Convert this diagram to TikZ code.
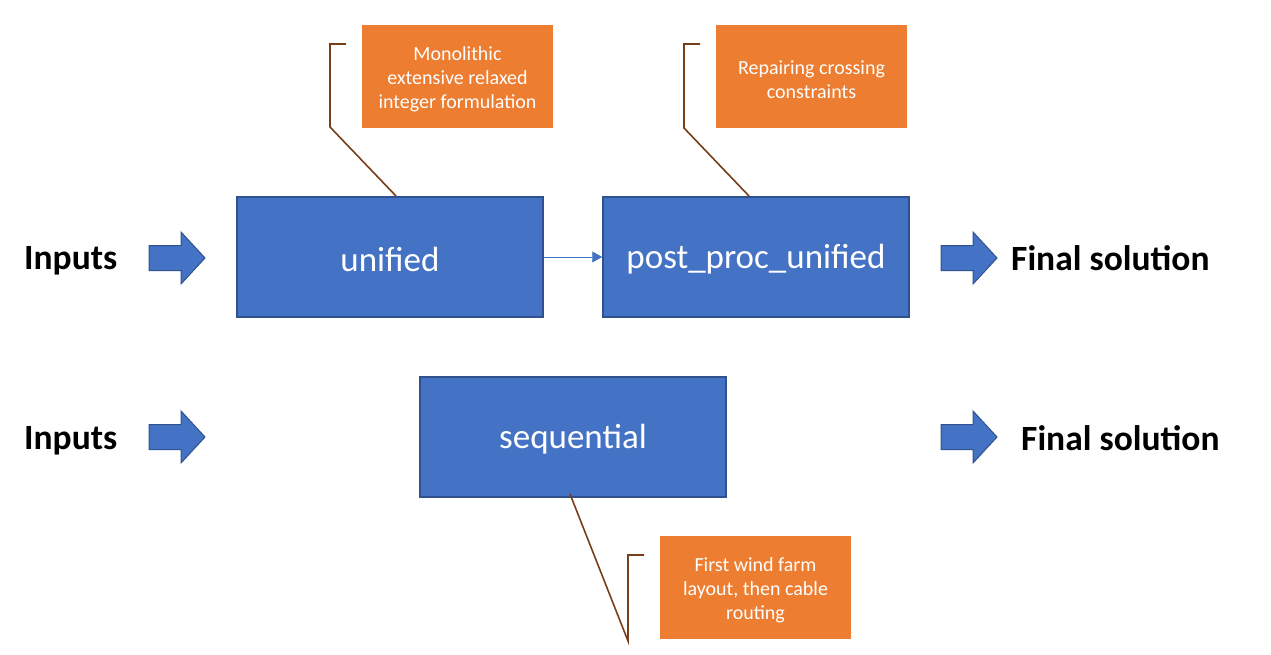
\documentclass[tikz,border=0pt]{standalone}
\usepackage{fontspec}
\setmainfont{Carlito}
\usetikzlibrary{arrows.meta}
\definecolor{boxblue}{HTML}{4472C4}
\definecolor{boxedge}{HTML}{2F528F}
\definecolor{callorange}{HTML}{ED7D31}
\definecolor{callline}{RGB}{120,62,25}
\begin{document}
\begin{tikzpicture}[x=1pt,y=-1pt,
 procbox/.style={draw=boxedge, fill=boxblue, line width=1.5pt, minimum width=306pt, minimum height=120pt, inner sep=0},
 proctext/.style={text=white, font=\fontsize{35}{42}\selectfont, inner sep=0, yshift=-2pt},
 callout/.style={fill=callorange, minimum width=191pt, minimum height=103pt, inner sep=0},
 callouttext/.style={text=white, align=center, font=\fontsize{20}{24}\selectfont, inner sep=0, yshift=-3pt},
 leader/.style={draw=callline, line width=1.6pt},
 blockarrow/.style={draw=boxedge, fill=boxblue, line width=1pt, line join=miter},
 bigtext/.style={font=\bfseries\fontsize{35.5}{42}\selectfont, inner sep=0}
]
\useasboundingbox (0,0) rectangle (1271,655);

% process boxes
\node[procbox] (unified) at (390,257) {};
\node[proctext] (unifiedT) at (unified.center) {unified};
\node[procbox] (post) at (756,257) {};
\node[proctext] (postT) at (post.center) {post\_proc\_unified};
\node[procbox] (seq) at (573,437) {};
\node[proctext] (seqT) at (seq.center) {sequential};

% callouts
\node[callout] (c1) at (457.5,76.5) {};
\node[callouttext] (c1T) at (c1.center) {Monolithic\\extensive relaxed\\integer formulation};
\node[callout] (c2) at (811.5,76.5) {};
\node[callouttext] (c2T) at (c2.center) {Repairing crossing\\constraints};
\node[callout] (c3) at (755.5,587.5) {};
\node[callouttext] (c3T) at (c3.center) {First wind farm\\layout, then cable\\routing};

% leader lines
\coordinate (l1a) at (346,44);
\coordinate (l1b) at (330,44);
\coordinate (l1c) at (330,127);
\coordinate (l1d) at (396,196);
\draw[leader] (l1a) -- (l1b) -- (l1c) -- (l1d);
\coordinate (l2a) at (700,44);
\coordinate (l2b) at (684,44);
\coordinate (l2c) at (684,128);
\coordinate (l2d) at (749,196);
\draw[leader] (l2a) -- (l2b) -- (l2c) -- (l2d);
\coordinate (l3a) at (644,555);
\coordinate (l3b) at (628,555);
\coordinate (l3c) at (628,641);
\coordinate (l3d) at (570,494);
\draw[leader] (l3a) -- (l3b) -- (l3c) -- (l3d);

% connector
\draw[boxblue, line width=0.75pt, -{Triangle[length=10pt,width=11pt]}] (unified.east) -- (post.west);

% block arrows
\foreach \ax/\ay in {149/258, 149/437, 941/258, 941/437}{
  \draw[blockarrow, shift={(\ax,\ay)}] (0,-12.5) -- (32,-12.5) -- (32,-26) -- (56,0) -- (32,26) -- (32,12.5) -- (0,12.5) -- cycle;
}

% texts
\node[bigtext, anchor=base west] (in1) at (24,269) {Inputs};
\node[bigtext, anchor=base west] (in2) at (24,449) {Inputs};
\node[bigtext, anchor=base west] (out1) at (1011,270) {Final solution};
\node[bigtext, anchor=base west] (out2) at (1021,450) {Final solution};
\end{tikzpicture}
\end{document}
